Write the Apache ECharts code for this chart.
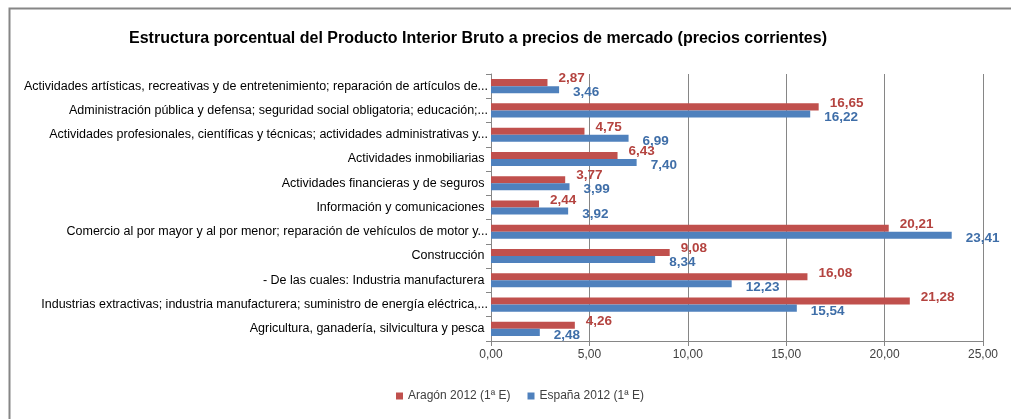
<!DOCTYPE html>
<html>
<head>
<meta charset="utf-8">
<script src="https://cdn.jsdelivr.net/npm/echarts@6/dist/echarts.min.js"></script>
<style>
  html, body { margin: 0; padding: 0; background: #fff; }
  #chart { width: 1011px; height: 419px; }
</style>
</head>
<body>
<div id="chart"></div>
<script>
// Sectors, listed from top to bottom as shown
const categories = [
  'Actividades artísticas, recreativas y de entretenimiento; reparación de artículos de...',
  'Administración pública y defensa; seguridad social obligatoria; educación;...',
  'Actividades profesionales, científicas y técnicas; actividades administrativas y...',
  'Actividades inmobiliarias ',
  'Actividades financieras y de seguros ',
  'Información y comunicaciones ',
  'Comercio al por mayor y al por menor; reparación de vehículos de motor y...',
  'Construcción ',
  '- De las cuales: Industria manufacturera ',
  'Industrias extractivas; industria manufacturera; suministro de energía eléctrica,...',
  'Agricultura, ganadería, silvicultura y pesca '
];
const seriesNames = ['Aragón 2012 (1ª E)', 'España 2012 (1ª E)'];
const aragon = [2.87, 16.65, 4.75, 6.43, 3.77, 2.44, 20.21, 9.08, 16.08, 21.28, 4.26];
const espana = [3.46, 16.22, 6.99, 7.40, 3.99, 3.92, 23.41, 8.34, 12.23, 15.54, 2.48];
const xTicks = { min: 0, max: 25, interval: 5 };

const FONT = '"Liberation Sans", Arial, sans-serif';
const fmt = v => v.toFixed(2).replace('.', ',');

const chart = echarts.init(document.getElementById('chart'), null, { renderer: 'canvas' });
chart.setOption({
  animation: false,
  backgroundColor: '#fff',
  textStyle: { fontFamily: FONT },
  title: {
    text: 'Estructura porcentual del Producto Interior Bruto a precios de mercado (precios corrientes)',
    left: 473, top: 26, textAlign: 'center',
    textStyle: { fontFamily: FONT, fontSize: 16, fontWeight: 'bold', color: '#000' }
  },
  graphic: [{
    type: 'rect', left: 7, top: 6, z: -1,
    shape: { width: 1020, height: 430 },
    style: { fill: 'none', stroke: '#868686', lineWidth: 2 }
  }],
  legend: {
    top: 385, left: 391, itemGap: 17,
    itemWidth: 7, itemHeight: 7, icon: 'rect',
    textStyle: { fontFamily: FONT, fontSize: 12, color: '#404040' },
    data: seriesNames
  },
  grid: { left: 491, right: 28, top: 74, bottom: 78 },
  xAxis: {
    type: 'value', min: xTicks.min, max: xTicks.max, interval: xTicks.interval,
    axisLine: { show: true, lineStyle: { color: '#868686' } },
    axisTick: { show: true, length: 5, lineStyle: { color: '#868686' } },
    splitLine: { show: true, lineStyle: { color: '#868686' } },
    axisLabel: { formatter: fmt, fontFamily: FONT, fontSize: 12, color: '#404040', margin: 8 }
  },
  yAxis: {
    type: 'category', inverse: true, data: categories,
    axisLine: { show: true, lineStyle: { color: '#868686' } },
    axisTick: { show: true, length: 5, lineStyle: { color: '#868686' } },
    axisLabel: { fontFamily: FONT, fontSize: 12.5, color: '#000', margin: 3 }
  },
  series: [
    {
      name: seriesNames[0], type: 'bar', data: aragon,
      barGap: '0%', barCategoryGap: '42%',
      itemStyle: { color: '#C0504D' },
      label: {
        show: true, position: 'right', distance: 11, offset: [0, -4],
        formatter: p => fmt(p.value),
        fontFamily: FONT, fontSize: 13.5, fontWeight: 'bold', color: '#B4433F'
      }
    },
    {
      name: seriesNames[1], type: 'bar', data: espana,
      barGap: '0%', barCategoryGap: '42%',
      itemStyle: { color: '#4F81BD' },
      label: {
        show: true, position: 'right', distance: 14, offset: [0, 3],
        formatter: p => fmt(p.value),
        fontFamily: FONT, fontSize: 13.5, fontWeight: 'bold', color: '#3F6EA8'
      }
    }
  ]
});
</script>
</body>
</html>
